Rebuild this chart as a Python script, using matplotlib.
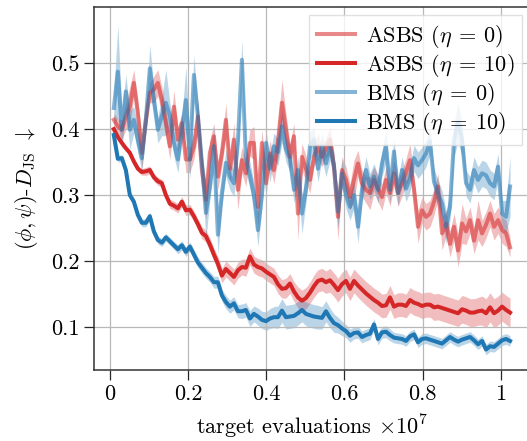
import numpy as np
import matplotlib
matplotlib.use("Agg")
import matplotlib.pyplot as plt
from matplotlib.ticker import FuncFormatter

plt.rcParams["font.family"] = ["cmr10", "DejaVu Serif"]
plt.rcParams["mathtext.fontset"] = "cm"
plt.rcParams["axes.formatter.use_mathtext"] = True

# evaluation checkpoints, in units of 1e7 target evaluations
evals = np.arange(1, 101) * 0.01024

asbs_eta0 = [0.414, 0.404, 0.399, 0.419, 0.434, 0.470, 0.424, 0.364, 0.414, 0.455,
             0.460, 0.470, 0.444, 0.409, 0.374, 0.434, 0.384, 0.409, 0.354, 0.354,
             0.374, 0.419, 0.338, 0.293, 0.364, 0.389, 0.328, 0.364, 0.414, 0.340,
             0.384, 0.308, 0.353, 0.333, 0.379, 0.379, 0.282, 0.379, 0.318, 0.363,
             0.338, 0.380, 0.440, 0.399, 0.358, 0.389, 0.272, 0.358, 0.340, 0.323,
             0.358, 0.374, 0.358, 0.372, 0.384, 0.343, 0.267, 0.338, 0.323, 0.297,
             0.323, 0.348, 0.318, 0.308, 0.303, 0.323, 0.310, 0.297, 0.323, 0.303,
             0.333, 0.303, 0.318, 0.335, 0.353, 0.308, 0.252, 0.277, 0.267, 0.272,
             0.290, 0.313, 0.242, 0.257, 0.226, 0.252, 0.216, 0.257, 0.245, 0.262,
             0.231, 0.262, 0.242, 0.255, 0.272, 0.252, 0.262, 0.247, 0.242, 0.221]
asbs_eta0_std = [0.010, 0.012, 0.015, 0.020, 0.030, 0.020, 0.020, 0.025, 0.020, 0.015,
                 0.020, 0.020, 0.020, 0.020, 0.020, 0.025, 0.020, 0.015, 0.020, 0.020,
                 0.020, 0.025, 0.020, 0.030, 0.020, 0.020, 0.020, 0.020, 0.025, 0.020,
                 0.025, 0.030, 0.020, 0.020, 0.020, 0.025, 0.030, 0.020, 0.020, 0.020,
                 0.020, 0.025, 0.035, 0.025, 0.020, 0.020, 0.040, 0.020, 0.020, 0.020,
                 0.015, 0.020, 0.015, 0.015, 0.020, 0.020, 0.035, 0.020, 0.020, 0.020,
                 0.030, 0.020, 0.020, 0.020, 0.025, 0.020, 0.020, 0.020, 0.020, 0.020,
                 0.020, 0.020, 0.020, 0.020, 0.025, 0.020, 0.025, 0.020, 0.020, 0.020,
                 0.020, 0.020, 0.025, 0.020, 0.020, 0.020, 0.025, 0.030, 0.020, 0.020,
                 0.020, 0.030, 0.020, 0.020, 0.020, 0.020, 0.020, 0.020, 0.020, 0.015]

asbs_eta10 = [0.400, 0.388, 0.379, 0.371, 0.364, 0.351, 0.340, 0.335, 0.336, 0.338,
              0.327, 0.321, 0.318, 0.300, 0.287, 0.284, 0.280, 0.290, 0.277, 0.278,
              0.268, 0.256, 0.243, 0.238, 0.225, 0.210, 0.196, 0.178, 0.188, 0.182,
              0.176, 0.186, 0.191, 0.190, 0.207, 0.195, 0.191, 0.189, 0.184, 0.180,
              0.176, 0.165, 0.158, 0.159, 0.166, 0.154, 0.145, 0.140, 0.144, 0.152,
              0.162, 0.170, 0.172, 0.168, 0.171, 0.164, 0.156, 0.165, 0.170, 0.158,
              0.170, 0.163, 0.157, 0.151, 0.146, 0.141, 0.137, 0.132, 0.133, 0.145,
              0.131, 0.134, 0.134, 0.132, 0.141, 0.137, 0.135, 0.132, 0.134, 0.134,
              0.130, 0.131, 0.129, 0.127, 0.125, 0.123, 0.121, 0.127, 0.125, 0.122,
              0.122, 0.124, 0.125, 0.121, 0.130, 0.121, 0.125, 0.131, 0.126, 0.122]
asbs_eta10_std = [0.004, 0.004, 0.004, 0.004, 0.005, 0.005, 0.005, 0.005, 0.006, 0.006,
                  0.006, 0.006, 0.006, 0.006, 0.007, 0.007, 0.007, 0.008, 0.008, 0.008,
                  0.008, 0.008, 0.009, 0.009, 0.010, 0.010, 0.011, 0.011, 0.012, 0.012,
                  0.012, 0.012, 0.012, 0.013, 0.013, 0.013, 0.013, 0.013, 0.013, 0.013,
                  0.013, 0.014, 0.014, 0.015, 0.015, 0.015, 0.016, 0.016, 0.016, 0.016,
                  0.017, 0.017, 0.017, 0.017, 0.018, 0.018, 0.018, 0.018, 0.018, 0.018,
                  0.018, 0.018, 0.018, 0.018, 0.018, 0.018, 0.018, 0.018, 0.018, 0.018,
                  0.018, 0.018, 0.018, 0.018, 0.019, 0.019, 0.019, 0.019, 0.019, 0.019,
                  0.020, 0.020, 0.020, 0.020, 0.020, 0.020, 0.020, 0.021, 0.021, 0.021,
                  0.021, 0.021, 0.022, 0.022, 0.022, 0.022, 0.022, 0.022, 0.022, 0.022]

bms_eta0 = [0.432, 0.487, 0.399, 0.457, 0.399, 0.414, 0.384, 0.356, 0.414, 0.492,
            0.444, 0.399, 0.420, 0.440, 0.420, 0.379, 0.354, 0.399, 0.444, 0.354,
            0.482, 0.420, 0.349, 0.273, 0.313, 0.374, 0.240, 0.303, 0.349, 0.328,
            0.318, 0.380, 0.505, 0.355, 0.330, 0.300, 0.247, 0.300, 0.379, 0.340,
            0.374, 0.365, 0.404, 0.370, 0.355, 0.308, 0.338, 0.272, 0.308, 0.374,
            0.384, 0.340, 0.374, 0.348, 0.372, 0.345, 0.275, 0.333, 0.300, 0.282,
            0.300, 0.252, 0.308, 0.338, 0.313, 0.328, 0.308, 0.348, 0.374, 0.308,
            0.366, 0.303, 0.338, 0.310, 0.325, 0.356, 0.345, 0.353, 0.363, 0.381,
            0.320, 0.303, 0.287, 0.252, 0.282, 0.384, 0.410, 0.384, 0.318, 0.308,
            0.338, 0.323, 0.333, 0.330, 0.318, 0.313, 0.343, 0.272, 0.267, 0.313]
bms_eta0_std = [0.025, 0.070, 0.030, 0.025, 0.030, 0.020, 0.020, 0.020, 0.020, 0.035,
                0.020, 0.020, 0.030, 0.050, 0.020, 0.020, 0.020, 0.020, 0.050, 0.030,
                0.030, 0.020, 0.020, 0.040, 0.020, 0.030, 0.030, 0.020, 0.020, 0.020,
                0.020, 0.020, 0.030, 0.020, 0.020, 0.020, 0.025, 0.020, 0.020, 0.020,
                0.020, 0.020, 0.025, 0.020, 0.020, 0.020, 0.020, 0.030, 0.020, 0.020,
                0.020, 0.020, 0.020, 0.020, 0.020, 0.020, 0.025, 0.020, 0.020, 0.020,
                0.020, 0.025, 0.020, 0.020, 0.020, 0.020, 0.020, 0.020, 0.025, 0.020,
                0.020, 0.020, 0.020, 0.020, 0.020, 0.020, 0.020, 0.020, 0.020, 0.020,
                0.020, 0.020, 0.020, 0.025, 0.020, 0.025, 0.030, 0.025, 0.020, 0.020,
                0.020, 0.020, 0.020, 0.020, 0.020, 0.020, 0.020, 0.020, 0.025, 0.045]

bms_eta10 = [0.391, 0.355, 0.356, 0.338, 0.300, 0.290, 0.270, 0.258, 0.258, 0.268,
             0.245, 0.232, 0.228, 0.236, 0.230, 0.224, 0.218, 0.224, 0.214, 0.222,
             0.210, 0.198, 0.190, 0.182, 0.176, 0.168, 0.168, 0.148, 0.138, 0.131,
             0.136, 0.124, 0.124, 0.126, 0.113, 0.120, 0.116, 0.111, 0.109, 0.113,
             0.115, 0.115, 0.125, 0.115, 0.116, 0.117, 0.121, 0.126, 0.120, 0.118,
             0.116, 0.115, 0.114, 0.124, 0.114, 0.106, 0.103, 0.098, 0.094, 0.087,
             0.091, 0.092, 0.085, 0.088, 0.090, 0.104, 0.082, 0.092, 0.093, 0.088,
             0.084, 0.083, 0.082, 0.079, 0.086, 0.089, 0.077, 0.082, 0.083, 0.081,
             0.079, 0.077, 0.075, 0.080, 0.085, 0.081, 0.078, 0.081, 0.083, 0.085,
             0.080, 0.074, 0.079, 0.066, 0.071, 0.070, 0.075, 0.080, 0.082, 0.079]
bms_eta10_std = [0.005, 0.005, 0.005, 0.005, 0.006, 0.006, 0.006, 0.006, 0.006, 0.006,
                 0.006, 0.006, 0.006, 0.006, 0.006, 0.006, 0.007, 0.007, 0.007, 0.007,
                 0.008, 0.008, 0.008, 0.008, 0.008, 0.009, 0.009, 0.009, 0.010, 0.010,
                 0.010, 0.010, 0.011, 0.011, 0.012, 0.012, 0.013, 0.013, 0.014, 0.015,
                 0.016, 0.017, 0.018, 0.018, 0.018, 0.018, 0.018, 0.018, 0.018, 0.018,
                 0.018, 0.018, 0.017, 0.016, 0.015, 0.014, 0.012, 0.011, 0.010, 0.010,
                 0.009, 0.009, 0.009, 0.009, 0.009, 0.009, 0.009, 0.009, 0.009, 0.009,
                 0.008, 0.008, 0.008, 0.008, 0.008, 0.008, 0.008, 0.008, 0.008, 0.008,
                 0.008, 0.008, 0.008, 0.008, 0.008, 0.008, 0.008, 0.008, 0.008, 0.008,
                 0.008, 0.008, 0.008, 0.008, 0.008, 0.008, 0.008, 0.008, 0.008, 0.008]

RED = "#d62728"
BLUE = "#1f77b4"

series = [
    (r"ASBS ($\eta\:=\:0$)", asbs_eta0, asbs_eta0_std, RED, 0.55),
    (r"ASBS ($\eta\:=\:10$)", asbs_eta10, asbs_eta10_std, RED, 1.0),
    (r"BMS ($\eta\:=\:0$)", bms_eta0, bms_eta0_std, BLUE, 0.55),
    (r"BMS ($\eta\:=\:10$)", bms_eta10, bms_eta10_std, BLUE, 1.0),
]

fig = plt.figure(figsize=(5.27, 4.41), dpi=100)
ax = fig.add_axes([94 / 527, 71 / 441, 436 / 527, 363 / 441])

for label, mean, std, color, alpha in series:
    mean = np.asarray(mean)
    std = np.asarray(std)
    ax.fill_between(evals, mean - std, mean + std, color=color, alpha=0.3, linewidth=0)
    ax.plot(evals, mean, color=color, alpha=alpha, linewidth=2.9, label=label)

ax.set_xlim(-0.0405, 1.075)
ax.set_ylim(0.035, 0.585)
ax.set_xticks([0, 0.2, 0.4, 0.6, 0.8, 1.0])
ax.set_yticks([0.1, 0.2, 0.3, 0.4, 0.5])
ax.xaxis.set_major_formatter(FuncFormatter(lambda v, p: "%g" % v))
ax.yaxis.set_major_formatter(FuncFormatter(lambda v, p: "%g" % v))
ax.tick_params(labelsize=16, length=7, width=0.9, direction="out", color="0.15")
ax.grid(True, color="0.72", linewidth=0.9)
for sp in ax.spines.values():
    sp.set_color("0.2")
    sp.set_linewidth(1.1)

ax.set_xlabel(r"target evaluations $\times 10^7$", fontsize=16, labelpad=6.5)
ax.set_ylabel(r"$(\phi, \psi)$-$D_{\mathrm{JS}}$ $\downarrow$", fontsize=16, labelpad=8)

leg = ax.legend(loc="upper right", fontsize=16, handlelength=1.7, fancybox=False,
                borderaxespad=0.35, labelspacing=0.1, handletextpad=0.5,
                borderpad=0.35, framealpha=0.8, edgecolor="0.85")

fig.savefig("out.png", dpi=100)
